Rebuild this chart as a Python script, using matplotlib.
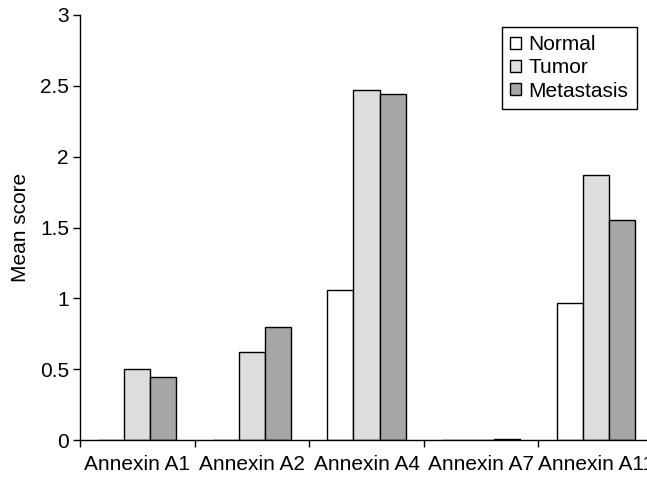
import matplotlib
matplotlib.use("Agg")
import matplotlib.pyplot as plt
import numpy as np

plt.rcParams['font.family'] = ['Liberation Sans', 'DejaVu Sans']

categories = ["Annexin A1", "Annexin A2", "Annexin A4", "Annexin A7", "Annexin A11"]
normal = [0.0, 0.0, 1.06, 0.0, 0.97]
tumor = [0.50, 0.62, 2.47, 0.0, 1.87]
metastasis = [0.445, 0.80, 2.44, 0.01, 1.55]
series_names = ["Normal", "Tumor", "Metastasis"]
colors = ["#FFFFFF", "#DDDDDD", "#A6A6A6"]

FS = 15

fig = plt.figure(figsize=(6.47, 4.78), dpi=100)
ax = fig.add_axes([80/647, 38/478, 573/647, 425/478])

x = np.arange(len(categories))
w = 0.227
for i, (vals, name, c) in enumerate(zip([normal, tumor, metastasis], series_names, colors)):
    ax.bar(x + (i - 1) * w, vals, width=w, color=c, edgecolor="black", linewidth=1.0, label=name)

ax.set_xlim(-0.5, len(categories) - 0.5)
ax.set_ylim(0, 3)
ax.set_yticks([0, 0.5, 1, 1.5, 2, 2.5, 3])
ax.set_yticklabels(["0", "0.5", "1", "1.5", "2", "2.5", "3"], fontsize=FS)
ax.set_xticks(np.arange(len(categories) + 1) - 0.5)
ax.set_xticklabels([])
ax.set_xticks(x, minor=True)
ax.set_xticklabels(categories, minor=True, fontsize=FS)
ax.tick_params(axis='x', which='minor', length=0, pad=11)
ax.tick_params(axis='x', which='major', direction='out', length=5, width=1)
ax.tick_params(axis='y', direction='out', length=5, width=1, pad=3)
ax.spines['top'].set_visible(False)
ax.spines['right'].set_visible(False)
ax.spines['left'].set_linewidth(1)
ax.spines['bottom'].set_linewidth(1)
ax.set_ylabel("Mean score", fontsize=FS, labelpad=7)

leg = ax.legend(loc='upper right', bbox_to_anchor=(0.972, 0.972), fontsize=FS,
                frameon=True, fancybox=False, edgecolor='black', framealpha=1,
                handlelength=0.55, handleheight=0.55, handletextpad=0.35,
                borderpad=0.4, labelspacing=0.2, borderaxespad=0)
leg.get_frame().set_linewidth(1)

fig.savefig("out.png", dpi=100)
